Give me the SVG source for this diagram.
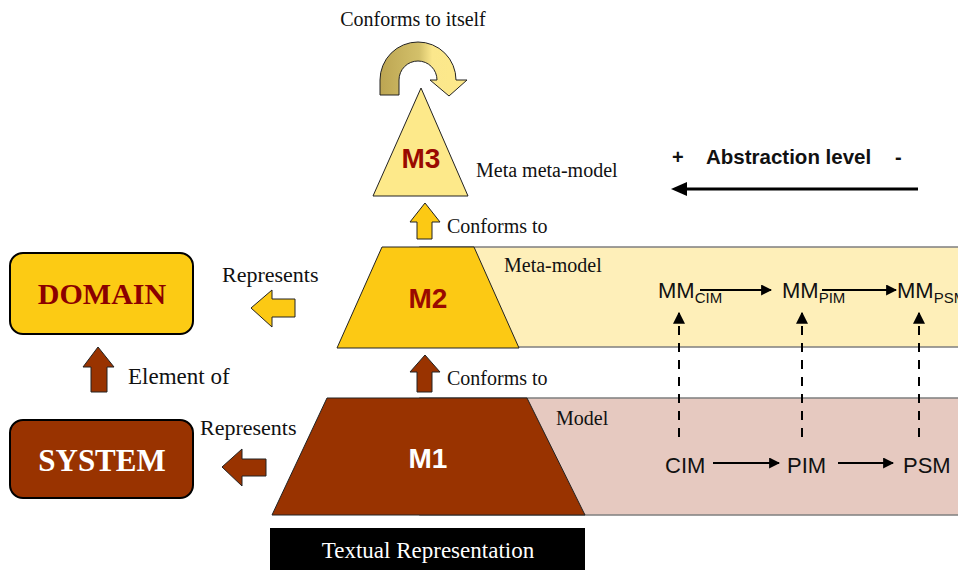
<svg xmlns="http://www.w3.org/2000/svg" width="958" height="570" viewBox="0 0 958 570">
  <style>
    .serif { font-family: "Liberation Serif", "Times New Roman", serif; }
    .sans { font-family: "Liberation Sans", Arial, sans-serif; }
    .lbl { font-family: "Liberation Serif", "Times New Roman", serif; fill: #111; }
    .lvl { font-family: "Liberation Sans", Arial, sans-serif; font-size: 28px; font-weight: bold; text-anchor: middle; }
    .mdl { font-family: "Liberation Sans", Arial, sans-serif; font-size: 22px; fill: #111; }
    .sub { font-size: 15px; }
    .band { stroke: #7f7f7f; stroke-width: 1.5; }
    .edge { stroke: #222; stroke-width: 1; stroke-linejoin: round; }
    .blk { stroke: #000; stroke-width: 2; fill: none; }
    .dash { stroke: #000; stroke-width: 2; stroke-dasharray: 9 8; fill: none; }
  </style>
  <defs>
    <marker id="ah" viewBox="0 0 10 10" refX="9" refY="5" markerWidth="5.5" markerHeight="5.5" orient="auto" markerUnits="strokeWidth">
      <path d="M0,0 L10,5 L0,10 Z" fill="#000"/>
    </marker>
    <marker id="ahs" viewBox="0 0 10 10" refX="9" refY="5" markerWidth="6" markerHeight="6" orient="auto" markerUnits="strokeWidth">
      <path d="M0,0 L10,5 L0,10 Z" fill="#000"/>
    </marker>
    <linearGradient id="loopFill" x1="0" y1="0" x2="1" y2="0">
      <stop offset="0" stop-color="#BCA552"/>
      <stop offset="0.45" stop-color="#D3C06A"/>
      <stop offset="0.6" stop-color="#FBE78C"/>
      <stop offset="1" stop-color="#FDE98A"/>
    </linearGradient>
  </defs>

  <rect width="958" height="570" fill="#fff"/>

  <!-- level bands -->
  <rect class="band" x="420" y="247" width="545" height="100" fill="#FEEFB9"/>
  <rect class="band" x="420" y="398" width="545" height="117" fill="#E6C9C0"/>

  <!-- M3: meta meta-model -->
  <g id="m3">
    <path d="M380,95 L380,80 A38,38 0 0 1 456,80 L467,80 L449,96 L430,80 L437,80 A19,19 0 0 0 399,80 L399,95 Z" fill="url(#loopFill)" class="edge"/>
    <text class="serif" x="413" y="26" font-size="20" text-anchor="middle" fill="#111">Conforms to itself</text>
    <polygon points="421,88 468,196 373,196" fill="#FDE98A" class="edge"/>
    <text class="lvl" x="421" y="168" fill="#9A0A00">M3</text>
    <text class="lbl" x="476" y="177" font-size="20">Meta meta-model</text>
  </g>

  <!-- M2: meta-model -->
  <g id="m2">
    <polygon points="382,247 474,247 519,348 337,348" fill="#FCC914" class="edge"/>
    <text class="lvl" x="428" y="308" fill="#9A0A00">M2</text>
    <text class="lbl" x="504" y="272" font-size="20">Meta-model</text>
    <text class="mdl" x="658" y="298">MM<tspan class="sub" dy="5">CIM</tspan></text>
    <text class="mdl" x="782" y="298">MM<tspan class="sub" dy="5">PIM</tspan></text>
    <text class="mdl" x="897" y="298">MM<tspan class="sub" dy="5">PSM</tspan></text>
  </g>

  <!-- M1: model -->
  <g id="m1">
    <polygon points="327,398 527,398 585,515 272,515" fill="#993300" class="edge"/>
    <text class="lvl" x="428" y="468" fill="#fff">M1</text>
    <text class="lbl" x="556" y="425" font-size="20">Model</text>
    <text class="mdl" x="665" y="473">CIM</text>
    <text class="mdl" x="787" y="473">PIM</text>
    <text class="mdl" x="903" y="473">PSM</text>
  </g>

  <!-- textual representation bar -->
  <g id="textual">
    <rect x="270" y="528" width="315" height="42" fill="#000"/>
    <text class="serif" x="428" y="558" font-size="23" text-anchor="middle" fill="#fff">Textual Representation</text>
  </g>

  <!-- domain and system boxes -->
  <g id="domain">
    <rect x="10" y="253" width="183" height="81" rx="13" fill="#FCCB14" stroke="#000" stroke-width="2"/>
    <text class="serif" x="102" y="304" font-size="30" font-weight="bold" text-anchor="middle" fill="#8B0000">DOMAIN</text>
  </g>
  <g id="system">
    <rect x="10" y="420" width="183" height="78" rx="13" fill="#993300" stroke="#000" stroke-width="2"/>
    <text class="serif" x="102" y="471" font-size="31" font-weight="bold" text-anchor="middle" fill="#fff">SYSTEM</text>
  </g>

  <!-- abstraction legend -->
  <g id="abstraction">
    <text class="sans" font-size="20" font-weight="bold" fill="#111" x="672" y="164">+</text>
    <text class="sans" font-size="20.5" font-weight="bold" fill="#111" x="706" y="164">Abstraction level</text>
    <text class="sans" font-size="20" font-weight="bold" fill="#111" x="895" y="164">-</text>
    <line x1="918" y1="189" x2="686" y2="189" stroke="#000" stroke-width="3"/>
    <path d="M671,189 L687,182 L687,196 Z" fill="#000"/>
  </g>

  <!-- connectors -->
  <g id="connectors">
    <!-- conformance block arrows -->
    <path d="M425,203 L440,222 L432,222 L432,239 L417,239 L417,222 L410,222 Z" fill="#FCC914" class="edge"/>
    <text class="lbl" x="447" y="233" font-size="20">Conforms to</text>
    <path d="M425,355 L440,372 L432,372 L432,392 L417,392 L417,372 L410,372 Z" fill="#993300" class="edge"/>
    <text class="lbl" x="447" y="385" font-size="20">Conforms to</text>

    <!-- represents / element-of block arrows -->
    <path d="M251,308 L272,290 L272,299 L295,299 L295,317 L272,317 L272,327 Z" fill="#FCC914" class="edge"/>
    <text class="lbl" x="222" y="282" font-size="22">Represents</text>
    <path d="M222,467 L242,449 L242,459 L266,459 L266,476 L242,476 L242,486 Z" fill="#993300" class="edge"/>
    <text class="lbl" x="200" y="435" font-size="22">Represents</text>
    <path d="M98,347 L114,367 L107,367 L107,392 L91,392 L91,367 L83,367 Z" fill="#993300" class="edge"/>
    <text class="lbl" x="128" y="384" font-size="23">Element of</text>

    <!-- meta-model transformations -->
    <line class="blk" x1="700" y1="290" x2="771" y2="290" marker-end="url(#ah)"/>
    <line class="blk" x1="822" y1="290" x2="896" y2="290" marker-end="url(#ah)"/>

    <!-- model transformations -->
    <line class="blk" x1="713" y1="463" x2="779" y2="463" marker-end="url(#ah)"/>
    <line class="blk" x1="838" y1="463" x2="893" y2="463" marker-end="url(#ah)"/>

    <!-- model conforms to meta-model -->
    <line class="dash" x1="679" y1="437" x2="679" y2="313" marker-end="url(#ahs)"/>
    <line class="dash" x1="802" y1="437" x2="802" y2="313" marker-end="url(#ahs)"/>
    <line class="dash" x1="919" y1="437" x2="919" y2="313" marker-end="url(#ahs)"/>
  </g>
</svg>
